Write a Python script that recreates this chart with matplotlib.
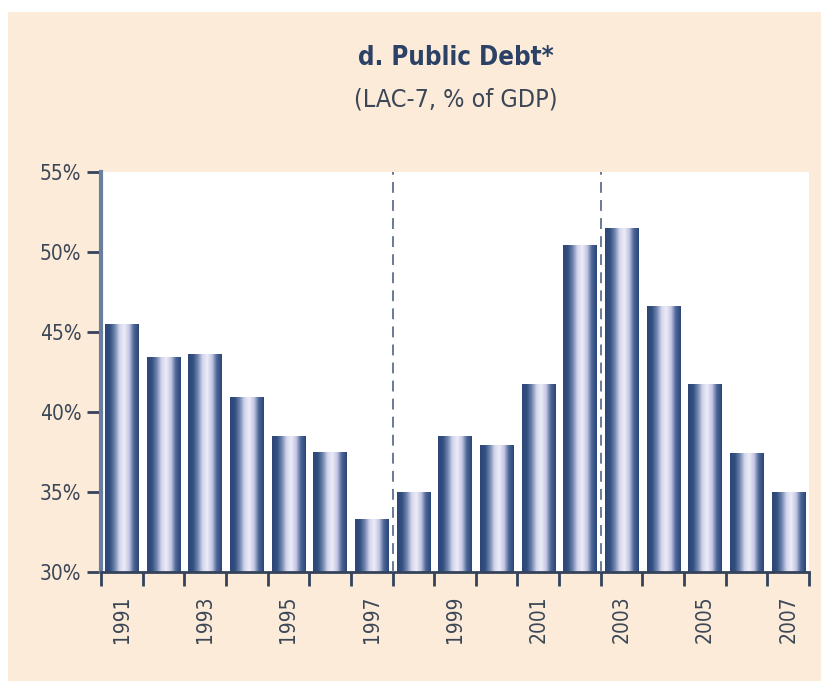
import numpy as np
import matplotlib.pyplot as plt
from matplotlib.colors import LinearSegmentedColormap
from matplotlib.patches import Rectangle
from matplotlib.ticker import FixedLocator

years = list(range(1991, 2008))
debt = [45.5, 43.4, 43.6, 40.9, 38.5, 37.5, 33.3, 35.0, 38.5, 37.9,
        41.7, 50.4, 51.5, 46.6, 41.7, 37.4, 35.0]
yticks = [30, 35, 40, 45, 50, 55]
label_years = [1991, 1993, 1995, 1997, 1999, 2001, 2003, 2005, 2007]
breaks = [1997.5, 2002.5]

peach = '#fcebd9'
navy = '#2b4677'
txt = '#3b4756'
fonts = ['Liberation Sans Narrow', 'DejaVu Sans']
font_kw = dict(family=fonts, stretch='condensed')

fig = plt.figure(figsize=(8.21, 6.81), dpi=100, facecolor='white')
fig.patches.append(Rectangle((8/821, 0), 1, 1 - 12/681, transform=fig.transFigure,
                             facecolor=peach, edgecolor='none', zorder=-5))

ax = fig.add_axes([101/821, 1 - 572/681, 708/821, 400/681])
ax.set_facecolor('white')

# bar shading: dark edges, pale middle
cmap = LinearSegmentedColormap.from_list('bar', [navy, '#34507f', '#6f85b0', '#d5d6ec', '#ecebf7', '#c4c6e2', '#4a6596', navy])
grad = np.linspace(0, 1, 64).reshape(1, -1)
w = 0.8
for yr, v in zip(years, debt):
    ax.imshow(grad, extent=[yr - w/2, yr + w/2, 30, v], aspect='auto',
              cmap=cmap, zorder=2, interpolation='bilinear')

for b in breaks:
    ax.axvline(b, color='#5d6f8c', lw=1.3, ls=(0, (6, 4)), zorder=3)

ax.set_xlim(1990.5, 2007.5)
ax.set_ylim(30, 55)

ax.set_yticks(yticks)
ax.set_yticklabels([f'{t}%' for t in yticks], fontsize=15, color=txt, **font_kw)
ax.xaxis.set_major_locator(FixedLocator(np.arange(1990.5, 2008, 1)))
ax.xaxis.set_minor_locator(FixedLocator(label_years))
ax.set_xticklabels([], minor=False)
ax.set_xticklabels([str(y) for y in label_years], minor=True, rotation=90,
                   fontsize=15, color=txt, **font_kw)
ax.tick_params(axis='x', which='major', length=10, width=2, color='#34435a', direction='out')
ax.tick_params(axis='x', which='minor', length=0, pad=17)
ax.tick_params(axis='y', length=10, width=2, color='#34435a', pad=4)

for s in ['top', 'right']:
    ax.spines[s].set_visible(False)
ax.spines['left'].set_color('#6a7fa0')
ax.spines['left'].set_linewidth(3)
ax.spines['bottom'].set_color('#34435a')
ax.spines['bottom'].set_linewidth(2)

fig.text(456/821, 1 - 58/681, 'd. Public Debt*', ha='center', va='center',
         fontsize=18.5, fontweight='bold', color='#2c4166', **font_kw)
fig.text(456/821, 1 - 100/681, '(LAC-7, % of GDP)', ha='center', va='center',
         fontsize=18, color=txt, **font_kw)

fig.savefig('out.png', dpi=100, facecolor=fig.get_facecolor())
